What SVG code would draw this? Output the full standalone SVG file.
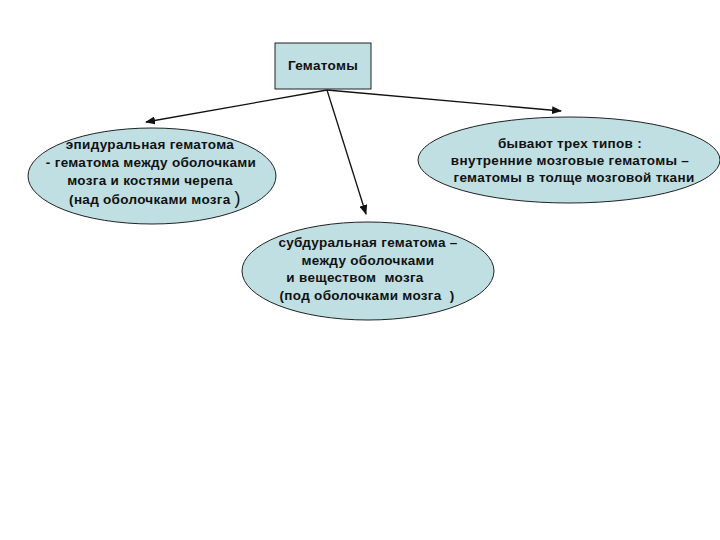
<svg xmlns="http://www.w3.org/2000/svg" width="720" height="540" viewBox="0 0 720 540">
<style>
.n{fill:#bfdfe3;stroke:#222;stroke-width:1}
.t{font-family:"Liberation Sans",Arial,sans-serif;font-weight:bold;font-size:13.5px;letter-spacing:0.3px;fill:#111;text-anchor:middle}
.c{stroke:#111;stroke-width:1.3;fill:none;marker-end:url(#a)}
</style>
<defs>
<marker id="a" markerWidth="10" markerHeight="8" refX="9" refY="4" orient="auto" markerUnits="userSpaceOnUse">
<path d="M0,0 L10,4 L0,8 Z" fill="#111"/>
</marker>
</defs>
<rect width="720" height="540" fill="#fff"/>
<g id="connectors">
<line class="c" x1="327" y1="90" x2="146" y2="122"/>
<line class="c" x1="327" y1="90" x2="366" y2="214"/>
<line class="c" x1="327" y1="90" x2="561" y2="111"/>
</g>
<g id="root">
<rect class="n" x="275" y="43" width="96" height="46"/>
<text class="t" x="323" y="70">Гематомы</text>
</g>
<g id="epidural">
<ellipse class="n" cx="152" cy="176" rx="124" ry="48"/>
<text class="t" x="150" y="149">эпидуральная гематома</text>
<text class="t" x="151" y="167">- гематома между оболочками</text>
<text class="t" x="150" y="185">мозга и костями черепа</text>
<text class="t" x="155" y="204">(над оболочками мозга <tspan font-size="18px" font-weight="normal">)</tspan></text>
</g>
<g id="intracerebral">
<ellipse class="n" cx="569" cy="160" rx="151" ry="43"/>
<text class="t" x="570" y="148">бывают трех типов :</text>
<text class="t" x="570" y="165">внутренние мозговые гематомы –</text>
<text class="t" x="574" y="182">гематомы в толще мозговой ткани</text>
</g>
<g id="subdural">
<ellipse class="n" cx="368" cy="271" rx="126" ry="49"/>
<text class="t" x="368" y="247">субдуральная гематома –</text>
<text class="t" x="368" y="265">между оболочками</text>
<text class="t" x="355" y="282" xml:space="preserve">и веществом  мозга</text>
<text class="t" x="367" y="300" xml:space="preserve">(под оболочками мозга  )</text>
</g>
</svg>
